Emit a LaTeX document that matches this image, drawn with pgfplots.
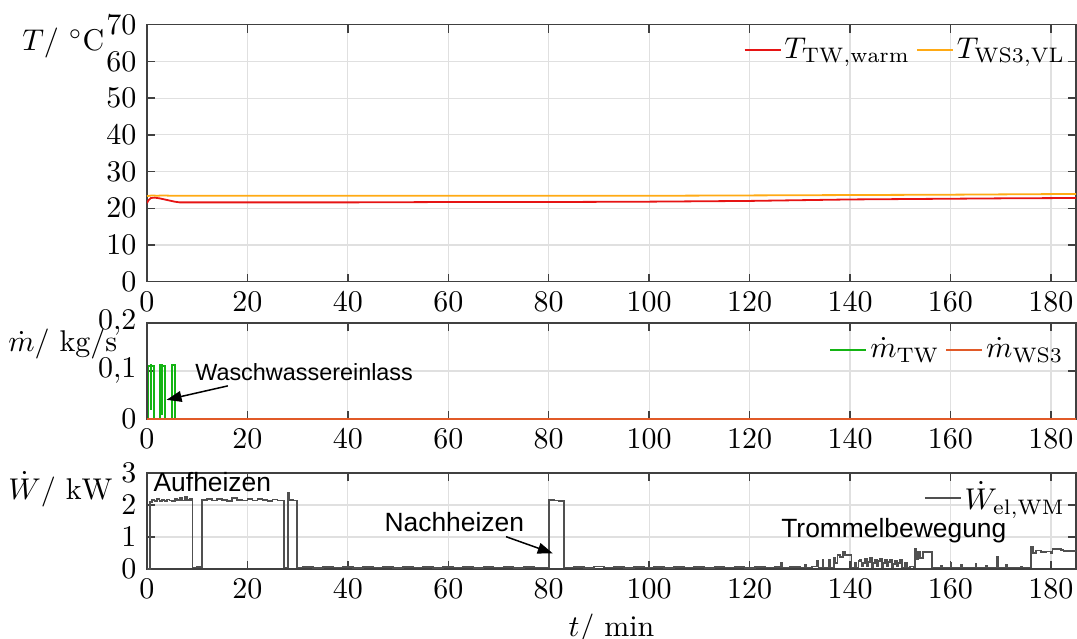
\documentclass[border=0pt]{standalone}
\usepackage{pgfplots}
\pgfplotsset{compat=1.18}
\usepackage{fontspec}
\newfontfamily\arial{Liberation Sans}
\usetikzlibrary{arrows.meta}
\definecolor{cred}{RGB}{230,20,20}
\definecolor{corange}{RGB}{255,170,20}
\definecolor{cgreen}{RGB}{20,180,20}
\definecolor{cws}{RGB}{225,90,40}
\definecolor{cgray}{RGB}{80,80,80}
\pgfplotsset{
  myax/.style={
    scale only axis, width=309.67pt,
    xmin=0, xmax=185, xtick={0,20,...,180},
    grid=major, major grid style={color=black!12, line width=0.4pt},
    axis line style={color=black!75, line width=0.45pt},
    tick style={color=black!75, line width=0.45pt},
    major tick length=2.7pt, tick align=inside,
    clip mode=individual,
    legend cell align=left,
    legend image code/.code={\draw[#1] (0pt,0pt) -- (12pt,0pt);},
    legend style={draw=none, fill=none, inner sep=0pt, legend columns=2,
      /tikz/every even column/.append style={column sep=1pt},
      nodes={inner sep=1pt}},
  },
}
\newcommand{\annfont}{\arial\fontsize{7.8}{9}\selectfont}
\newcommand{\annfontb}{\arial\fontsize{8.8}{10}\selectfont}
\begin{document}
\begin{tikzpicture}
\useasboundingbox (0,0) rectangle (359pt,-213pt);
% ---------------- top axis ----------------
\begin{axis}[myax, at={(49pt,-8.23pt)}, anchor=north west, height=85.67pt,
  ymin=0, ymax=70, ytick={0,10,...,70},
  ylabel={$T/\ {}^\circ\mathrm{C}$},
  every axis y label/.style={at={(rel axis cs:0,1)}, anchor=east, inner sep=0pt, xshift=-14pt, yshift=-6pt},
  legend style={at={(rel axis cs:1,0.9)}, anchor=east, xshift=-2.5pt}]
\addplot[cred, line width=0.6pt] coordinates {
(0,21.4)(0.3,22.2)(0.8,22.8)(1.5,22.9)(2.5,22.7)(3.5,22.4)(4.5,22.1)(5.5,21.8)(6.5,21.6)
(20,21.6)(40,21.6)(60,21.7)(80,21.7)(100,21.8)(110,21.9)(120,22.0)(130,22.2)(140,22.4)
(150,22.5)(160,22.6)(170,22.7)(185,22.8)};
\addlegendentry{$T_{\mathrm{TW,warm}}$}
\addplot[corange, line width=0.6pt] coordinates {
(0,23.3)(1,23.5)(2,23.4)(3,23.5)(5,23.4)(40,23.4)(80,23.4)(100,23.4)(120,23.5)(140,23.6)(160,23.7)(185,23.9)};
\addlegendentry{$T_{\mathrm{WS3,VL}}$}
\end{axis}
% ---------------- middle axis ----------------
\begin{axis}[myax, at={(49pt,-107.67pt)}, anchor=north west, height=32pt,
  ymin=0, ymax=0.2, ytick={0,0.1,0.2}, yticklabels={$0$,$0{,}1$,$0{,}2$},
  ylabel={$\dot m/\ \mathrm{kg/s}$},
  every axis y label/.style={at={(rel axis cs:0,1)}, anchor=east, inner sep=0pt, xshift=-9.7pt, yshift=-7pt},
  legend style={at={(rel axis cs:1,0.72)}, anchor=east, xshift=-3pt}]
\addplot[cgreen, line width=0.6pt, const plot] coordinates {
(0,0)(0.3,0.11)(0.7,0.112)(0.75,0.02)(0.8,0.11)(1.45,0)(2.55,0.112)(2.95,0.01)(3.0,0.11)(3.55,0)
(4.95,0.112)(5.55,0)(185,0)};
\addlegendentry{$\dot m_{\mathrm{TW}}$}
\addplot[cws, line width=0.6pt] coordinates {(0,0)(185,0)};
\addlegendentry{$\dot m_{\mathrm{WS3}}$}
\draw[line width=0.5pt, -{Triangle[length=5pt,width=3.6pt]}] (axis cs:16.1,0.069) -- (axis cs:3.9,0.04);
\node[anchor=west, inner sep=0pt, font=\annfont] at (axis cs:9.5,0.097) {Waschwassereinlass};
\end{axis}
% ---------------- bottom axis ----------------
\begin{axis}[myax, at={(49pt,-157.67pt)}, anchor=north west, height=32pt,
  ymin=0, ymax=3, ytick={0,1,2,3},
  ylabel={$\dot W/\ \mathrm{kW}$},
  every axis y label/.style={at={(rel axis cs:0,1)}, anchor=east, inner sep=0pt, xshift=-11.3pt, yshift=-5.5pt},
  xlabel={$t/\ \mathrm{min}$},
  every axis x label/.style={at={(rel axis cs:0.5,0)}, anchor=north, inner sep=0pt, yshift=-14.7pt},
  legend style={at={(rel axis cs:1,0.74)}, anchor=east, xshift=-2.5pt}]
\addplot[cgray, line width=0.6pt, const plot] coordinates {
(0,0)(0.6,2.1)(1,2.15)(1.5,2.12)(2,2.18)(2.5,2.13)(3,2.16)(3.5,2.12)(4,2.17)(4.5,2.14)(5,2.13)(5.5,2.2)(6,2.15)(6.5,2.22)(7,2.14)(7.5,2.24)(8,2.16)(8.5,2.2)(9,2.15)
(9.05,0.05)(10,0.07)(10.95,2.15)(12,2.18)(13,2.14)(14,2.2)(15,2.15)(16,2.13)(17,2.22)(18,2.15)(19,2.14)(20,2.18)(21,2.14)(22,2.2)(23,2.16)(24,2.13)(25,2.17)(26,2.14)
(27.25,0.05)(28.15,2.38)(28.3,2.15)(29,2.14)(29.85,0.05)
(31,0.06)(33,0.04)(35,0.07)(37,0.05)(39,0.06)(41,0.04)(43,0.07)(45,0.05)(47,0.06)(49,0.04)(51,0.07)(53,0.05)(55,0.06)(57,0.04)(59,0.07)(61,0.05)(63,0.06)(65,0.04)(67,0.07)(69,0.05)(71,0.06)(73,0.04)(75,0.07)(77,0.05)
(80,2.15)(81,2.14)(82,2.12)(83,0.05)
(85,0.06)(87,0.04)(89,0.08)(91,0.05)(93,0.06)(95,0.04)(97,0.07)(99,0.05)(101,0.06)(103,0.04)(105,0.07)(107,0.05)(109,0.06)(111,0.04)(113,0.07)(115,0.05)(117,0.06)(119,0.04)(121,0.07)(123,0.05)(125,0.06)
(126.2,0.18)(126.4,0.05)(128,0.06)(130,0.05)(131,0.12)(131.2,0.05)(132.5,0.08)(133.5,0.25)(133.7,0.05)(134.5,0.27)(134.7,0.05)(135.8,0.3)(136,0.05)(136.8,0.35)(137,0.2)(137.5,0.45)(138,0.38)(138.6,0.55)(139,0.44)(140.3,0.05)
(141,0.2)(141.3,0.05)(141.7,0.25)(142,0.28)(142.3,0.08)(142.6,0.2)(143,0.32)(143.3,0.1)(143.6,0.22)(144,0.35)(144.3,0.05)(144.6,0.18)(145,0.3)(145.3,0.1)(145.6,0.25)(146,0.33)(146.3,0.05)(146.6,0.2)(147,0.28)(147.3,0.1)(147.6,0.22)(148,0.3)(148.3,0.05)(148.6,0.15)(149,0.25)(149.3,0.08)(149.6,0.2)(150,0.3)(150.3,0.05)(151,0.2)(151.3,0.05)(152,0.08)(152.8,0.05)
(153,0.64)(153.2,0.3)(153.6,0.55)(154,0.35)(154.5,0.52)(156.4,0.05)(158,0.1)(158.3,0.05)(160,0.2)(160.2,0.05)(162,0.12)(162.3,0.05)(165,0.15)(165.2,0.05)(167,0.1)(167.3,0.05)(169.2,0.38)(169.4,0.05)(171,0.12)(171.3,0.05)(174,0.08)(174.3,0.05)
(176,0.68)(176.5,0.5)(177,0.58)(178,0.52)(179,0.55)(180,0.5)(180.3,0.62)(182,0.6)(182.5,0.57)(185,0.56)};
\addlegendentry{$\dot W_{\mathrm{el,WM}}$}
\node[anchor=west, inner sep=0pt, font=\annfontb] at (axis cs:1.2,2.72) {Aufheizen};
\node[anchor=west, inner sep=0pt, font=\annfontb] at (axis cs:47.2,1.47) {Nachheizen};
\node[anchor=west, inner sep=0pt, font=\annfontb] at (axis cs:126.2,1.2) {Trommelbewegung};
\draw[line width=0.5pt, -{Triangle[length=5pt,width=3.6pt]}] (axis cs:71.5,1.01) -- (axis cs:80.8,0.49);
\end{axis}
\end{tikzpicture}
\end{document}
